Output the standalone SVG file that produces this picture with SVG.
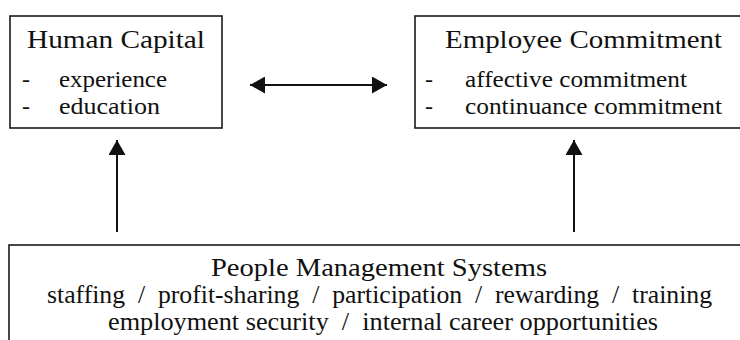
<svg xmlns="http://www.w3.org/2000/svg" width="740" height="340" viewBox="0 0 740 340">
  <style>
    text { font-family: "Liberation Serif", "Times New Roman", serif; fill: #111; }
    .box { fill: #ffffff; stroke: #1a1a1a; stroke-width: 1.6; }
    .title { font-size: 26px; }
    .item { font-size: 24px; }
    .body { font-size: 25px; }
    .link { stroke: #111; stroke-width: 2; fill: none; }
  </style>
  <defs>
    <marker id="head" viewBox="0 0 15 17" refX="15" refY="8.5" markerWidth="15" markerHeight="17" markerUnits="userSpaceOnUse" orient="auto-start-reverse">
      <path d="M0,0 L15,8.5 L0,17 Z" fill="#111"/>
    </marker>
  </defs>
  <rect width="740" height="340" fill="#ffffff"/>

  <g id="human-capital">
    <rect class="box" x="10" y="16" width="212" height="112"/>
    <text class="title" x="27" y="48" textLength="178" lengthAdjust="spacingAndGlyphs">Human Capital</text>
    <text class="item" x="22" y="87">-</text>
    <text class="item" x="59" y="87" textLength="108" lengthAdjust="spacingAndGlyphs">experience</text>
    <text class="item" x="22" y="114">-</text>
    <text class="item" x="59" y="114" textLength="101" lengthAdjust="spacingAndGlyphs">education</text>
  </g>

  <g id="employee-commitment">
    <rect class="box" x="415" y="16" width="340" height="112"/>
    <text class="title" x="445" y="48" textLength="277" lengthAdjust="spacingAndGlyphs">Employee Commitment</text>
    <text class="item" x="425" y="87">-</text>
    <text class="item" x="465" y="87" textLength="222" lengthAdjust="spacingAndGlyphs">affective commitment</text>
    <text class="item" x="425" y="114">-</text>
    <text class="item" x="465" y="114" textLength="257" lengthAdjust="spacingAndGlyphs">continuance commitment</text>
  </g>

  <g id="people-management-systems">
    <rect class="box" x="9" y="245" width="750" height="120"/>
    <text class="body" x="211" y="276" textLength="336" lengthAdjust="spacingAndGlyphs">People Management Systems</text>
    <text class="body" x="47" y="303" textLength="665" lengthAdjust="spacingAndGlyphs" xml:space="preserve">staffing  /  profit-sharing  /  participation  /  rewarding  /  training</text>
    <text class="body" x="108" y="330" textLength="550" lengthAdjust="spacingAndGlyphs" xml:space="preserve">employment security  /  internal career opportunities</text>
  </g>

  <g id="connectors">
    <line class="link" x1="250" y1="85" x2="387" y2="85" marker-start="url(#head)" marker-end="url(#head)"/>
    <line class="link" x1="117" y1="232" x2="117" y2="140" marker-end="url(#head)"/>
    <line class="link" x1="574" y1="232" x2="574" y2="140" marker-end="url(#head)"/>
  </g>
</svg>
